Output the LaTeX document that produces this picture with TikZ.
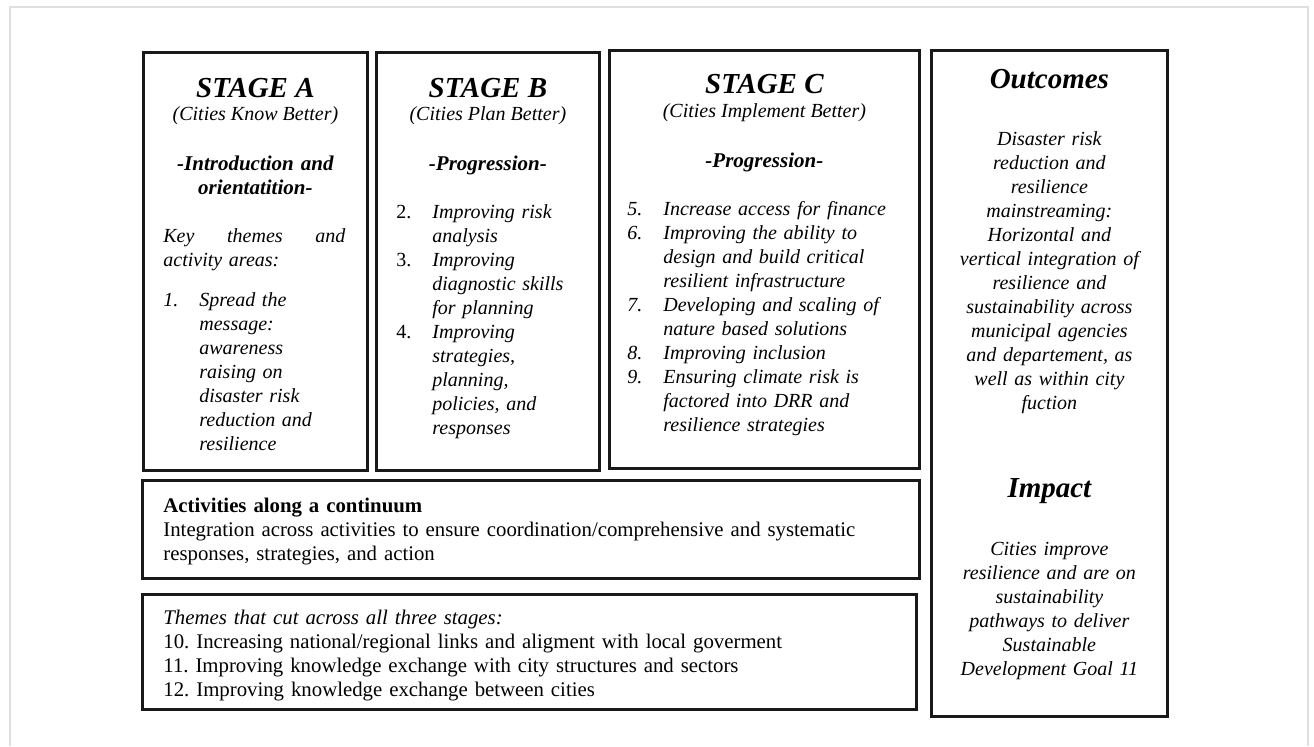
\documentclass[tikz,border=0pt]{standalone}
\usepackage{fontspec}
\setmainfont{Liberation Serif}
\usetikzlibrary{positioning}
\newcommand{\itm}[1]{\makebox[18pt][l]{#1}}
\frenchspacing

\begin{document}
\begin{tikzpicture}[
x=0.5pt, y=-0.5pt,
frame/.style={draw=black!90, line width=1.4pt, anchor=north west, inner sep=0pt},
title/.style={anchor=base, inner sep=0pt, font=\fontsize{14.5}{17}\selectfont\bfseries\itshape},
subtitle/.style={anchor=base, inner sep=0pt, font=\fontsize{10}{12}\selectfont\itshape},
heading/.style={anchor=base, inner sep=0pt, text width=110pt, align=center, font=\fontsize{10.5}{12}\selectfont\bfseries\itshape},
body/.style={anchor=base west, inner sep=0pt, align=left, font=\fontsize{10}{12}\selectfont\itshape},
plain/.style={body, text width=380pt, font=\fontsize{10.4}{12}\selectfont}
]
\useasboundingbox (0,0) rectangle (1314,746);
\draw [gray!25, line width=0.8pt] (10,746) |- (1308,7) -- (1308,746);

\node (stageA) [frame, minimum width=112pt, minimum height=209pt] at (142,51) {};
\node (stageB) [frame, minimum width=111.5pt, minimum height=209pt] at (375,51) {};
\node (stageC) [frame, minimum width=155pt, minimum height=209pt] at (608,49) {};
\node (outcomes) [frame, minimum width=118pt, minimum height=333pt] at (930,49) {};
\node (continuum) [frame, minimum width=388.5pt, minimum height=49pt] at (141,479) {};
\node (themes) [frame, minimum width=387pt, minimum height=57.5pt] at (141,593) {};

\node (titleA) [title] at ([yshift=-23pt]stageA.north) {STAGE A};
\node (subA) [subtitle] at ([yshift=-34.5pt]stageA.north) {(Cities Know Better)};
\node (headA) [heading] at ([yshift=-59.5pt]stageA.north) {-Introduction and\\orientatition-};
\node (listA) [body, text width=91pt] at ([xshift=10.5pt, yshift=-95.5pt]stageA.north west)
  {Key\hfill themes\hfill and\\activity areas:\\[8pt]\itm{1.}Spread the\\\itm{}message:\\\itm{}awareness\\\itm{}raising on\\\itm{}disaster risk\\\itm{}reduction and\\\itm{}resilience};

\node (titleB) [title] at ([yshift=-23pt]stageB.north) {STAGE B};
\node (subB) [subtitle] at ([yshift=-34.5pt]stageB.north) {(Cities Plan Better)};
\node (headB) [heading] at ([yshift=-59.5pt]stageB.north) {-Progression-};
\node (listB) [body, text width=95pt] at ([xshift=10.5pt, yshift=-83.5pt]stageB.north west)
  {\itm{\upshape 2.}Improving risk\\\itm{}analysis\\\itm{\upshape 3.}Improving\\\itm{}diagnostic skills\\\itm{}for planning\\\itm{\upshape 4.}Improving\\\itm{}strategies,\\\itm{}planning,\\\itm{}policies, and\\\itm{}responses};

\node (titleC) [title] at ([yshift=-22pt]stageC.north) {STAGE C};
\node (subC) [subtitle] at ([yshift=-34pt]stageC.north) {(Cities Implement Better)};
\node (headC) [heading] at ([yshift=-59pt]stageC.north) {-Progression-};
\node (listC) [body, text width=140pt] at ([xshift=9.5pt, yshift=-83pt]stageC.north west)
  {\itm{5.}Increase access for finance\\\itm{6.}Improving the ability to\\\itm{}design and build critical\\\itm{}resilient infrastructure\\\itm{7.}Developing and scaling of\\\itm{}nature based solutions\\\itm{8.}Improving inclusion\\\itm{9.}Ensuring climate risk is\\\itm{}factored into DRR and\\\itm{}resilience strategies};

\node (titleOut) [title] at ([yshift=-19.5pt]outcomes.north) {Outcomes};
\node (textOut) [body, anchor=base, text width=110pt, align=center] at ([yshift=-48pt]outcomes.north)
  {Disaster risk\\reduction and\\resilience\\mainstreaming:\\Horizontal and\\vertical integration of\\resilience and\\sustainability across\\municipal agencies\\and departement, as\\well as within city\\fuction};
\node (titleImp) [title] at ([yshift=-224pt]outcomes.north) {Impact};
\node (textImp) [body, anchor=base, text width=110pt, align=center] at ([yshift=-253pt]outcomes.north)
  {Cities improve\\resilience and are on\\sustainability\\pathways to deliver\\Sustainable\\Development Goal 11};

\node (textCont) [plain] at ([xshift=11pt, yshift=-16.5pt]continuum.north west)
  {\textbf{Activities along a continuum}\\Integration across activities to ensure coordination/comprehensive and systematic\\responses, strategies, and action};
\node (textThemes) [plain] at ([xshift=11pt, yshift=-15.5pt]themes.north west)
  {\textit{Themes that cut across all three stages:}\\10. Increasing national/regional links and aligment with local goverment\\11. Improving knowledge exchange with city structures and sectors\\12. Improving knowledge exchange between cities};
\end{tikzpicture}
\end{document}
